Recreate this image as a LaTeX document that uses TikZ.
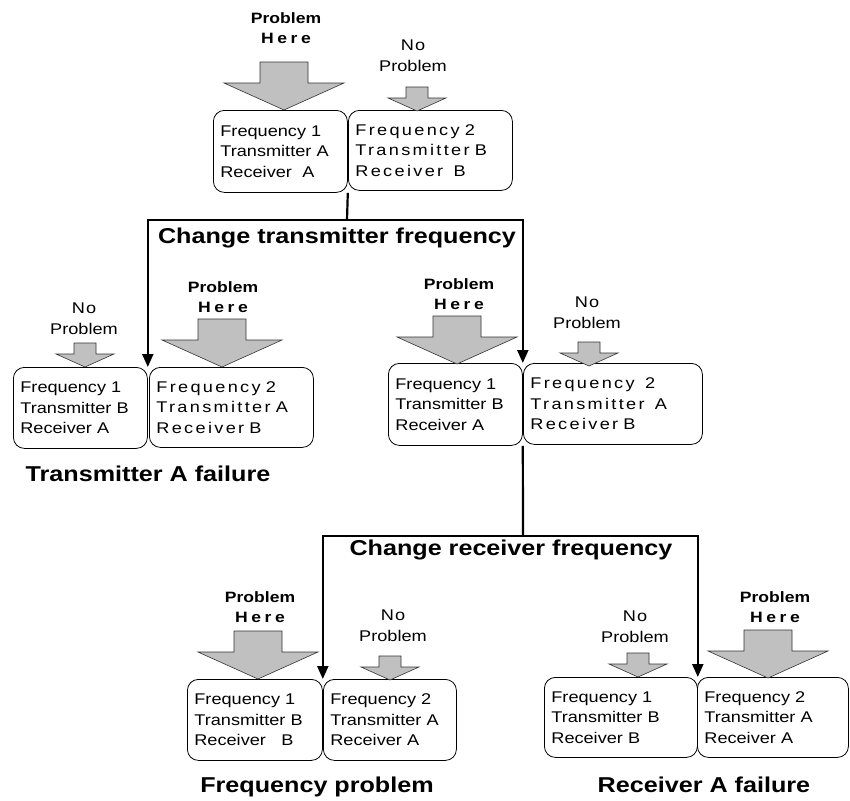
\documentclass[tikz,border=0pt]{standalone}
\usepackage{fontspec}
\setmainfont{Liberation Sans}[FakeStretch=1.17]
\newfontfamily\spfont{Liberation Sans}[FakeStretch=1.17,LetterSpace=15]
\newfontfamily\sptwo{Liberation Sans}[FakeStretch=1.17,LetterSpace=8]
\newfontfamily\herefont{Liberation Sans}[FakeStretch=1.17,LetterSpace=24]
\usetikzlibrary{arrows.meta}
\definecolor{arrgray}{HTML}{C0C0C0}
\tikzset{
  box/.style={draw=black, line width=0.8pt, rounded corners=11pt, anchor=north west,
    align=left, inner xsep=7pt, inner ysep=0pt,
    font=\fontsize{15.5}{20.5}\selectfont},
  garrow/.style={draw=black!80, line width=0.6pt, fill=arrgray},
  conn/.style={line width=2.2pt, draw=black},
  arr/.style={conn, -{Triangle[width=11pt,length=13pt]}},
  lab/.style={align=center, inner sep=0pt, font=\fontsize{15.5}{21}\selectfont},
  blab/.style={align=center, inner sep=0pt, font=\fontsize{15}{20}\selectfont\bfseries},
  captxt/.style={inner sep=0pt, font=\fontsize{21.5}{24}\selectfont\bfseries}
}
% tip x, tip y, shaft half, head half, shaft length, head length
\newcommand{\blockarr}[6]{%
  \draw[garrow] (#1-#3,#2-#6-#5) -- (#1+#3,#2-#6-#5) -- (#1+#3,#2-#6) -- (#1+#4,#2-#6)
     -- (#1,#2) -- (#1-#4,#2-#6) -- (#1-#3,#2-#6) -- cycle;}
\newcommand{\bigarr}[2]{\blockarr{#1}{#2}{24}{60}{21}{27}}
\newcommand{\smallarr}[2]{\blockarr{#1}{#2}{11}{29}{11}{13}}
\newcommand{\probhere}{Problem\\{\herefont\bfseries Here}}
\begin{document}
\begin{tikzpicture}[x=1pt,y=-1pt]
\useasboundingbox (0,0) rectangle (850,800);
\fill[white] (0,0) rectangle (850,800);

% ---------- top level ----------
\node[box, minimum width=134pt, minimum height=82pt, text width=120pt] (b1) at (213,110)
  {Frequency 1\\Transmitter A\\Receiver\ \ A};
\node[box, minimum width=164pt, minimum height=80pt, text width=150pt] (b2) at (348,110)
  {\spfont Frequency 2\\\spfont Transmitter B\\\spfont Receiver\ \ B};
\bigarr{284}{110}
\smallarr{417}{111}
\node[blab] (l1) at (286,28) {\probhere};
\node[lab] (l2) at (413,56) {{\sptwo No}\\Problem};

% ---------- level 2 ----------
\node[box, minimum width=134pt, minimum height=81pt, text width=120pt] (b3) at (13,367)
  {Frequency 1\\Transmitter B\\Receiver A};
\node[box, minimum width=164pt, minimum height=80pt, text width=150pt] (b4) at (149,367)
  {\spfont Frequency 2\\\spfont Transmitter A\\\spfont Receiver B};
\smallarr{85}{367}
\bigarr{222}{367}
\node[lab] (l3) at (84,319) {{\sptwo No}\\Problem};
\node[blab] (l4) at (223,297) {\probhere};

\node[box, minimum width=134pt, minimum height=82pt, text width=120pt] (b5) at (388,363)
  {Frequency 1\\Transmitter B\\Receiver A};
\node[box, minimum width=179pt, minimum height=81pt, text width=165pt] (b6) at (523,363)
  {\spfont Frequency\ \ 2\\\spfont Transmitter\ \ A\\\spfont Receiver B};
\bigarr{457}{364}
\smallarr{589}{366}
\node[blab] (l5) at (459,294) {\probhere};
\node[lab] (l6) at (587,313) {{\sptwo No}\\Problem};

% ---------- level 3 ----------
\node[box, minimum width=135pt, minimum height=81pt, text width=121pt] (b7) at (187,679)
  {Frequency 1\\Transmitter B\\Receiver\quad B};
\node[box, minimum width=133pt, minimum height=81pt, text width=119pt] (b8) at (323,679)
  {Frequency 2\\Transmitter A\\Receiver A};
\bigarr{258}{679}
\smallarr{390}{680}
\node[blab] (l7) at (260,607) {\probhere};
\node[lab] (l8) at (393,626) {{\sptwo No}\\Problem};

\node[box, minimum width=153pt, minimum height=80pt, text width=139pt] (b9) at (544,677)
  {Frequency 1\\Transmitter B\\Receiver B};
\node[box, minimum width=151pt, minimum height=80pt, text width=137pt] (b10) at (697,677)
  {Frequency 2\\Transmitter A\\Receiver A};
\smallarr{638}{677}
\bigarr{768}{678}
\node[lab] (l9) at (635,627) {{\sptwo No}\\Problem};
\node[blab] (l10) at (775,607) {\probhere};

% ---------- captions ----------
\node[captxt] (c1) at (337,238) {Change transmitter frequency};
\node[captxt] (c2) at (148,474) {Transmitter A failure};
\node[captxt] (c3) at (511,550) {Change receiver frequency};
\node[captxt] (c4) at (317,787) {Frequency problem};
\node[captxt] (c5) at (704,785) {Receiver A failure};

% ---------- connectors ----------
\coordinate (t1) at (347,220);
\coordinate (t2) at (523,536);
\draw[conn] (b1.south east) -- (t1);
\draw[arr] (t1) -| (b3.north east);
\draw[arr] (t1) -| (b5.north east);
\draw[conn] (b5.south east) -- (t2);
\draw[arr] (t2) -| (b7.north east);
\draw[arr] (t2) -| (b9.north east);
\end{tikzpicture}
\end{document}
